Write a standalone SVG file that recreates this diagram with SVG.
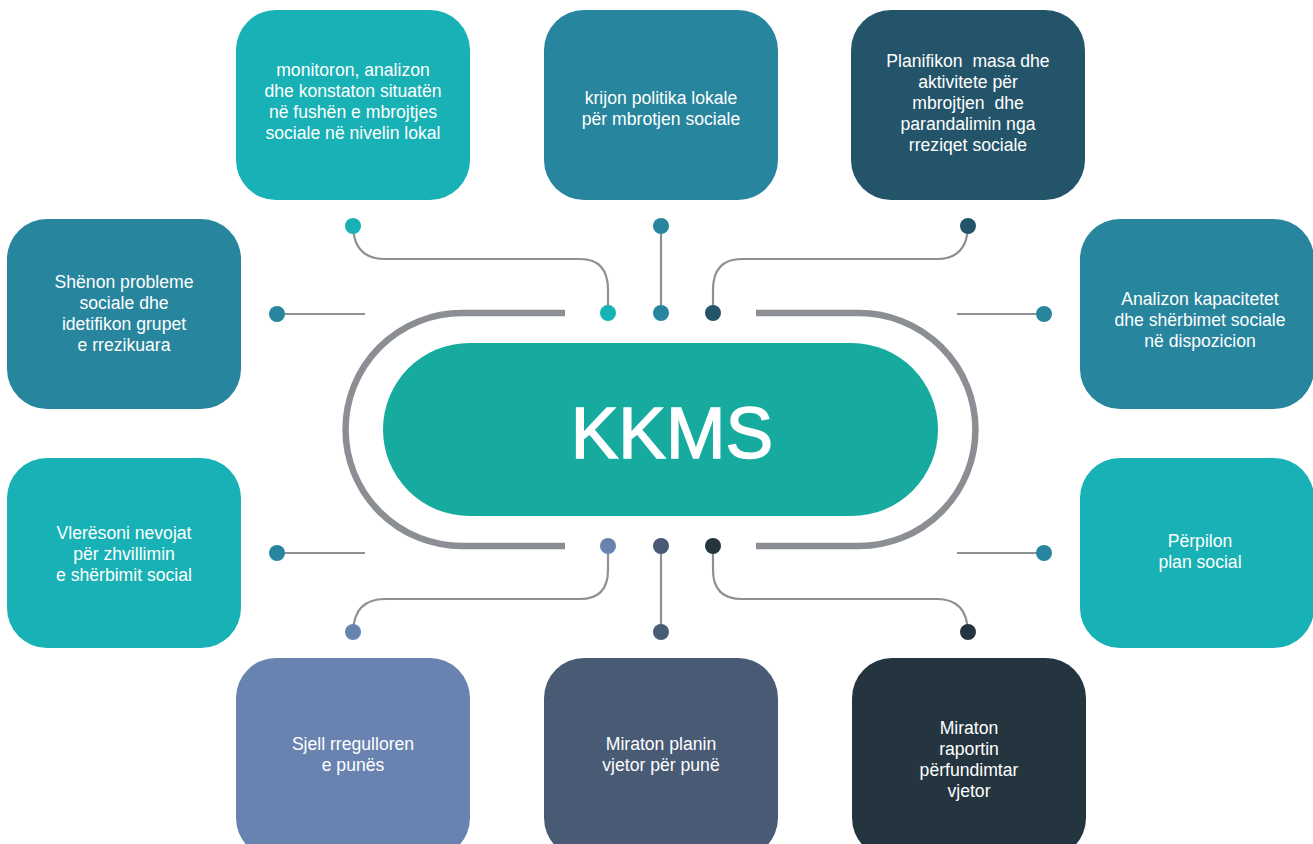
<svg xmlns="http://www.w3.org/2000/svg" width="1313" height="844" viewBox="0 0 1313 844">
<style>
.t{font-family:"Liberation Sans",Arial,sans-serif;font-size:17.6px;fill:#ffffff;text-anchor:middle}
.big{font-family:"Liberation Sans",Arial,sans-serif;font-size:71.5px;fill:#ffffff;stroke:#ffffff;stroke-width:1.4;text-anchor:middle}
.c1{fill:#18b1b5}.c2{fill:#27859d}.c3{fill:#245469}.c4{fill:#6983b0}.c5{fill:#485a74}.c6{fill:#25353f}
.ln{fill:none;stroke:#8d9094;stroke-width:2.2}
.ring{fill:none;stroke:#8b8e92;stroke-width:6.5}
</style>
<rect width="1313" height="844" fill="#ffffff"/>
<g id="connectors">
<path class="ring" d="M565,313 H462 A116.5,116.5 0 0 0 462,546 H565"/>
<path class="ring" d="M756,313 H859 A116.5,116.5 0 0 1 859,546 H756"/>
<path class="ln" d="M353,226 Q354,259 385,259 H580 Q608,259 608,290 V313"/>
<path class="ln" d="M661,226 V313"/>
<path class="ln" d="M968,226 Q967,259 937,259 H742 Q713,259 713,290 V313"/>
<path class="ln" d="M277,314 H365"/>
<path class="ln" d="M277,553 H365"/>
<path class="ln" d="M957,314 H1044"/>
<path class="ln" d="M957,553 H1044"/>
<path class="ln" d="M608,546 V570 Q608,599 580,599 H385 Q354,599 353,632"/>
<path class="ln" d="M661,546 V632"/>
<path class="ln" d="M713,546 V570 Q713,599 742,599 H937 Q967,599 968,632"/>
<circle class="c1" cx="353" cy="226" r="8"/>
<circle class="c2" cx="661" cy="226" r="8"/>
<circle class="c3" cx="968" cy="226" r="8"/>
<circle class="c1" cx="608" cy="313" r="8"/>
<circle class="c2" cx="661" cy="313" r="8"/>
<circle class="c3" cx="713" cy="313" r="8"/>
<circle class="c2" cx="277" cy="314" r="8"/>
<circle class="c2" cx="277" cy="553" r="8"/>
<circle class="c2" cx="1044" cy="314" r="8"/>
<circle class="c2" cx="1044" cy="553" r="8"/>
<circle class="c4" cx="608" cy="546" r="8"/>
<circle class="c5" cx="661" cy="546" r="8"/>
<circle class="c6" cx="713" cy="546" r="8"/>
<circle class="c4" cx="353" cy="632" r="8"/>
<circle class="c5" cx="661" cy="632" r="8"/>
<circle class="c6" cx="968" cy="632" r="8"/>
</g>
<g id="center">
<rect x="383" y="343" width="555" height="173" rx="86.5" fill="#17ab9f"/>
<text class="big" x="672" y="458">KKMS</text>
</g>
<g id="top1">
<rect class="c1" x="236" y="10" width="234" height="190" rx="40"/>
<text class="t"><tspan x="353" y="76">monitoron, analizon</tspan><tspan x="353" y="97">dhe konstaton situatën</tspan><tspan x="353" y="118">në fushën e mbrojtjes</tspan><tspan x="353" y="139">sociale në nivelin lokal</tspan></text>
</g>
<g id="top2">
<rect class="c2" x="544" y="10" width="234" height="190" rx="40"/>
<text class="t"><tspan x="661" y="104">krijon politika lokale</tspan><tspan x="661" y="125">për mbrotjen sociale</tspan></text>
</g>
<g id="top3">
<rect class="c3" x="851" y="10" width="234" height="190" rx="40"/>
<text class="t" xml:space="preserve"><tspan x="968" y="67">Planifikon  masa dhe</tspan><tspan x="968" y="88">aktivitete për</tspan><tspan x="968" y="109">mbrojtjen  dhe</tspan><tspan x="968" y="130">parandalimin nga</tspan><tspan x="968" y="151">rreziqet sociale</tspan></text>
</g>
<g id="left1">
<rect class="c2" x="7" y="219" width="234" height="190" rx="40"/>
<text class="t"><tspan x="124" y="288">Shënon probleme</tspan><tspan x="124" y="309">sociale dhe</tspan><tspan x="124" y="330">idetifikon grupet</tspan><tspan x="124" y="351">e rrezikuara</tspan></text>
</g>
<g id="left2">
<rect class="c1" x="7" y="458" width="234" height="190" rx="40"/>
<text class="t"><tspan x="124" y="539">Vlerësoni nevojat</tspan><tspan x="124" y="560">për zhvillimin</tspan><tspan x="124" y="581">e shërbimit social</tspan></text>
</g>
<g id="right1">
<rect class="c2" x="1080" y="219" width="234" height="190" rx="40"/>
<text class="t"><tspan x="1200" y="305">Analizon kapacitetet</tspan><tspan x="1200" y="326">dhe shërbimet sociale</tspan><tspan x="1200" y="347">në dispozicion</tspan></text>
</g>
<g id="right2">
<rect class="c1" x="1080" y="458" width="234" height="190" rx="40"/>
<text class="t"><tspan x="1200" y="547">Përpilon</tspan><tspan x="1200" y="568">plan social</tspan></text>
</g>
<g id="bottom1">
<rect class="c4" x="236" y="658" width="234" height="200" rx="40"/>
<text class="t"><tspan x="353" y="750">Sjell rregulloren</tspan><tspan x="353" y="771">e punës</tspan></text>
</g>
<g id="bottom2">
<rect class="c5" x="544" y="658" width="234" height="200" rx="40"/>
<text class="t"><tspan x="661" y="750">Miraton planin</tspan><tspan x="661" y="771">vjetor për punë</tspan></text>
</g>
<g id="bottom3">
<rect class="c6" x="852" y="658" width="234" height="200" rx="40"/>
<text class="t"><tspan x="969" y="734">Miraton</tspan><tspan x="969" y="755">raportin</tspan><tspan x="969" y="776">përfundimtar</tspan><tspan x="969" y="797">vjetor</tspan></text>
</g>
</svg>
